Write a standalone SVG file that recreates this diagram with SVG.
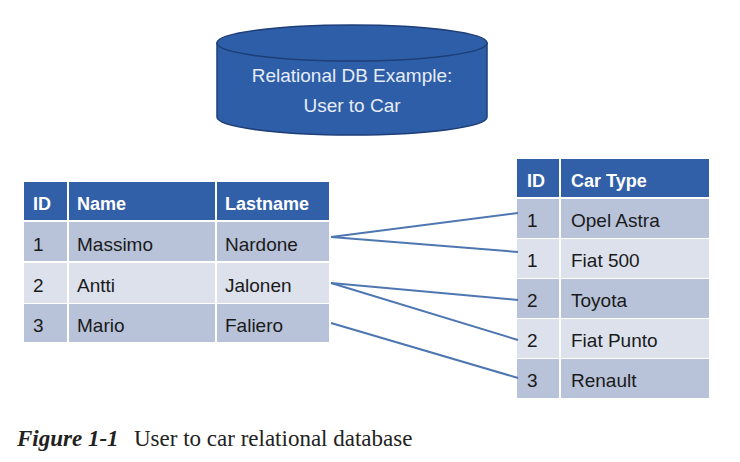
<svg xmlns="http://www.w3.org/2000/svg" width="740" height="462" viewBox="0 0 740 462">
<style>
.hdr{fill:#3160A8}
.dk{fill:#B8C2D9}
.lt{fill:#DCE1EC}
.sep{fill:#FFFFFF}
.ht{font-family:"Liberation Sans",Arial,sans-serif;font-size:18px;font-weight:bold;fill:#FFFFFF}
.ct{font-family:"Liberation Sans",Arial,sans-serif;font-size:19px;fill:#1A1A1A}
.dbt{font-family:"Liberation Sans",Arial,sans-serif;font-size:19px;fill:#E6EDF8;text-anchor:middle}
.link{stroke:#4E77B2;stroke-width:2;fill:none}
.cap{font-family:"Liberation Serif","Times New Roman",serif;font-size:23px;fill:#222222}
</style>
<rect width="740" height="462" fill="#FFFFFF"/>
<g id="db">
  <path d="M217,43 L217,117 A135,18 0 0 0 487,117 L487,43 Z" fill="#2F5EA8" stroke="#1E3E78" stroke-width="1.5"/>
  <ellipse cx="352" cy="43" rx="135" ry="18" fill="#2F5EA8" stroke="#1E3E78" stroke-width="1.5"/>
  <text class="dbt" x="352" y="82">Relational DB Example:</text>
  <text class="dbt" x="352" y="112">User to Car</text>
</g>
<g id="users">
  <rect class="hdr" x="24" y="182" width="305" height="38"/>
  <rect class="dk" x="24" y="222" width="305" height="39"/>
  <rect class="lt" x="24" y="263" width="305" height="40"/>
  <rect class="dk" x="24" y="304" width="305" height="38"/>
  <rect class="sep" x="67" y="182" width="2" height="160"/>
  <rect class="sep" x="215" y="182" width="2" height="160"/>
  <text class="ht" x="33" y="210">ID</text>
  <text class="ht" x="77" y="210">Name</text>
  <text class="ht" x="225" y="210">Lastname</text>
  <text class="ct" x="33" y="251">1</text>
  <text class="ct" x="77" y="251">Massimo</text>
  <text class="ct" x="225" y="251">Nardone</text>
  <text class="ct" x="33" y="292">2</text>
  <text class="ct" x="77" y="292">Antti</text>
  <text class="ct" x="225" y="292">Jalonen</text>
  <text class="ct" x="33" y="332">3</text>
  <text class="ct" x="77" y="332">Mario</text>
  <text class="ct" x="225" y="332">Faliero</text>
</g>
<g id="cars">
  <rect class="hdr" x="517" y="159" width="192" height="38"/>
  <rect class="dk" x="517" y="199" width="192" height="39"/>
  <rect class="lt" x="517" y="239" width="192" height="39"/>
  <rect class="dk" x="517" y="279" width="192" height="39"/>
  <rect class="lt" x="517" y="319" width="192" height="39"/>
  <rect class="dk" x="517" y="359" width="192" height="39"/>
  <rect class="sep" x="559" y="159" width="2" height="239"/>
  <text class="ht" x="527" y="187">ID</text>
  <text class="ht" x="571" y="187">Car Type</text>
  <text class="ct" x="527" y="227">1</text>
  <text class="ct" x="571" y="227">Opel Astra</text>
  <text class="ct" x="527" y="267">1</text>
  <text class="ct" x="571" y="267">Fiat 500</text>
  <text class="ct" x="527" y="307">2</text>
  <text class="ct" x="571" y="307">Toyota</text>
  <text class="ct" x="527" y="347">2</text>
  <text class="ct" x="571" y="347">Fiat Punto</text>
  <text class="ct" x="527" y="387">3</text>
  <text class="ct" x="571" y="387">Renault</text>
</g>
<g id="connectors">
  <line class="link" x1="331" y1="237" x2="518" y2="213"/>
  <line class="link" x1="331" y1="237" x2="518" y2="252"/>
  <line class="link" x1="331" y1="283" x2="518" y2="300"/>
  <line class="link" x1="331" y1="283" x2="518" y2="340"/>
  <line class="link" x1="331" y1="323" x2="518" y2="378"/>
</g>
<g id="caption">
  <text class="cap" x="17" y="446" font-weight="bold" font-style="italic">Figure 1-1</text>
  <text class="cap" x="134" y="446">User to car relational database</text>
</g>
</svg>
